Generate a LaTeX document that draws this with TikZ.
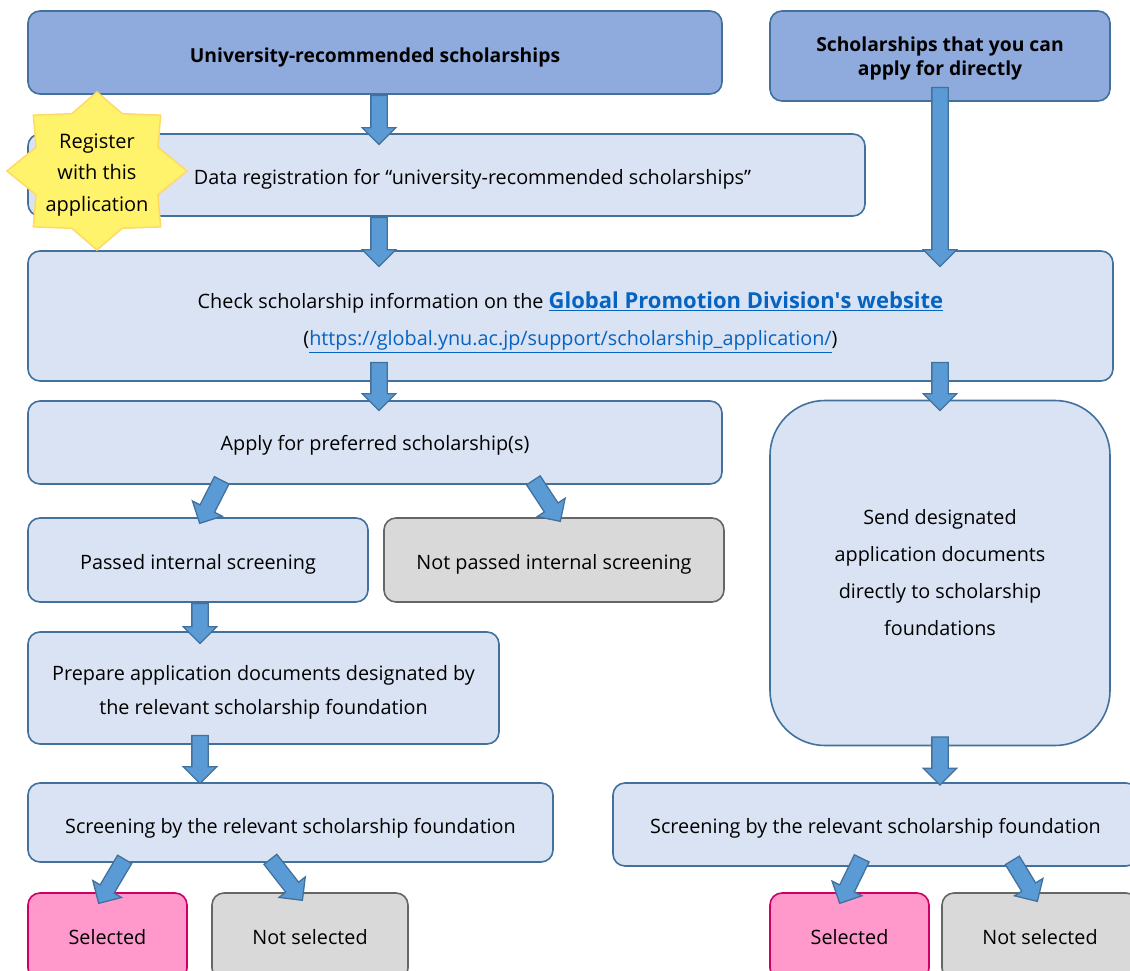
\documentclass[tikz,border=0pt]{standalone}
\usepackage{fontspec}
\setmainfont{Open Sans}
\usetikzlibrary{shapes.arrows,calc}
\definecolor{dk}{HTML}{8FAADC}
\definecolor{lt}{HTML}{DAE3F3}
\definecolor{bord}{HTML}{41719C}
\definecolor{gry}{HTML}{D9D9D9}
\definecolor{gbord}{HTML}{666666}
\definecolor{pnk}{HTML}{FF99CC}
\definecolor{pbord}{HTML}{CC0066}
\definecolor{arr}{HTML}{5B9BD5}
\definecolor{stf}{HTML}{FFF36B}
\definecolor{stb}{HTML}{FFD966}
\definecolor{link}{HTML}{0563C1}
\tikzset{
  box/.style={draw=bord, line width=1.6pt, rounded corners=12pt, fill=lt, align=center, inner sep=0pt, font=\fontsize{19.8}{34}\selectfont},
  dbox/.style={box, fill=dk, font=\fontsize{19.3}{24}\selectfont\bfseries},
  gbox/.style={box, fill=gry, draw=gbord},
  pbox/.style={box, fill=pnk, draw=pbord},
  tx/.style={text height=#1, text depth=0pt},
  barr/.style={single arrow, draw=bord, fill=arr, line width=1.3pt, minimum width=32pt, single arrow head extend=8.5pt, single arrow tip angle=90, inner sep=7.5pt, text height=0pt, text depth=0pt},
  startext/.style={align=center, inner sep=0pt, font=\fontsize{20}{31.5}\selectfont},
}
\newcommand\barrow[2]{\path let \p1=(#1),\p2=(#2),\n1={atan2(\y2-\y1,\x2-\x1)},\n2={veclen(\x2-\x1,\y2-\y1)} in node[barr, minimum height=\n2, rotate=\n1, anchor=tail] at (\p1) {};}
\begin{document}
\begin{tikzpicture}[x=1pt,y=-1pt]
\useasboundingbox (0,0) rectangle (1130,971);
% boxes
\node[dbox, tx=20pt, minimum width=694, minimum height=83] (A) at (375,52.5) {University-recommended scholarships};
\node[dbox, minimum width=340, minimum height=90] (B) at (940,56) {\rule{0pt}{19pt}Scholarships that you can\\apply for directly};
\node[box, tx=18pt, minimum width=837, minimum height=82] (C) at (446.5,175) {\hspace*{52pt}Data registration for “university-recommended scholarships”};
\node[box, minimum width=1085, minimum height=130] (D) at (570.5,316) {\rule{0pt}{29pt}Check scholarship information on the {\fontsize{22}{24}\selectfont\bfseries\color{link}\underline{Global Promotion Division{\addfontfeatures{Ligatures=TeXOff}'}s website}}\\[3pt]
(\textcolor{link}{\underline{https://global.ynu.ac.jp/support/scholarship\_application/}})};
\node[box, tx=16pt, minimum width=694, minimum height=83] (E) at (375,442.5) {Apply for preferred scholarship(s)};
\node[box, rounded corners=55pt, minimum width=340, minimum height=345, font=\fontsize{19.8}{37}\selectfont] (F) at (940,573) {Send designated\\application documents\\directly to scholarship\\foundations};
\node[box, tx=18pt, minimum width=340, minimum height=84] (G) at (198,560) {Passed internal screening};
\node[gbox, tx=18pt, minimum width=340, minimum height=84] (H) at (554,560) {Not passed internal screening};
\node[box, minimum width=471, minimum height=112] (I) at (263.5,688) {\rule{0pt}{23pt}Prepare application documents designated by\\the relevant scholarship foundation};
\node[box, tx=22pt, minimum width=525, minimum height=79] (J) at (290.5,822.5) {Screening by the relevant scholarship foundation};
\node[box, tx=18pt, minimum width=525, minimum height=83] (K) at (875.5,824.5) {Screening by the relevant scholarship foundation};
\node[pbox, tx=16.4pt, minimum width=159, minimum height=87] (L) at (107.5,936.5) {Selected};
\node[gbox, tx=16.4pt, minimum width=196, minimum height=87] (M) at (310,936.5) {Not selected};
\node[pbox, tx=16.4pt, minimum width=159, minimum height=87] (N) at (849.5,936.5) {Selected};
\node[gbox, tx=16.4pt, minimum width=196, minimum height=87] (O) at (1040,936.5) {Not selected};
% arrows
\barrow{$(A.south)+(4,0)$}{$(A.south)+(4,49)$}
\barrow{$(C.south)+(-67.5,0)$}{$(C.south)+(-67.5,49)$}
\barrow{$(B.south)+(0,-15)$}{$(B.south)+(0,164)$}
\barrow{$(D.south)+(-191.5,-20)$}{$(D.south)+(-191.5,28)$}
\barrow{$(D.south)+(369.5,-20)$}{$(D.south)+(369.5,28)$}
\barrow{$(E.south)+(-153,-5)$}{$(E.south)+(-175,38)$}
\barrow{$(E.south)+(158,-5)$}{$(E.south)+(185,36)$}
\barrow{$(G.south)+(2,0)$}{$(G.south)+(2,40)$}
\barrow{$(I.south)+(-63.5,-10)$}{$(I.south)+(-63.5,38)$}
\barrow{$(F.south)+(0,-10)$}{$(F.south)+(0,38)$}
\barrow{$(J.south)+(-165.5,-4)$}{$(J.south)+(-191.5,40)$}
\barrow{$(J.south)+(-20.5,-4)$}{$(J.south)+(11.5,37)$}
\barrow{$(K.south)+(-13.5,-9)$}{$(K.south)+(-35.5,36)$}
\barrow{$(K.south)+(136.5,-7)$}{$(K.south)+(161.5,34)$}
% star
\draw[fill=stf, draw=stb, line width=1.5pt] (187,171) \foreach \i in {1,...,15} { -- ({97+(mod(\i,2)==0?90:66)*cos(22.5*\i)},{171-(mod(\i,2)==0?79:62)*sin(22.5*\i)}) } -- cycle;
\node[startext] (reg) at (97,175) {Register\\with this\\application};
\end{tikzpicture}
\end{document}
